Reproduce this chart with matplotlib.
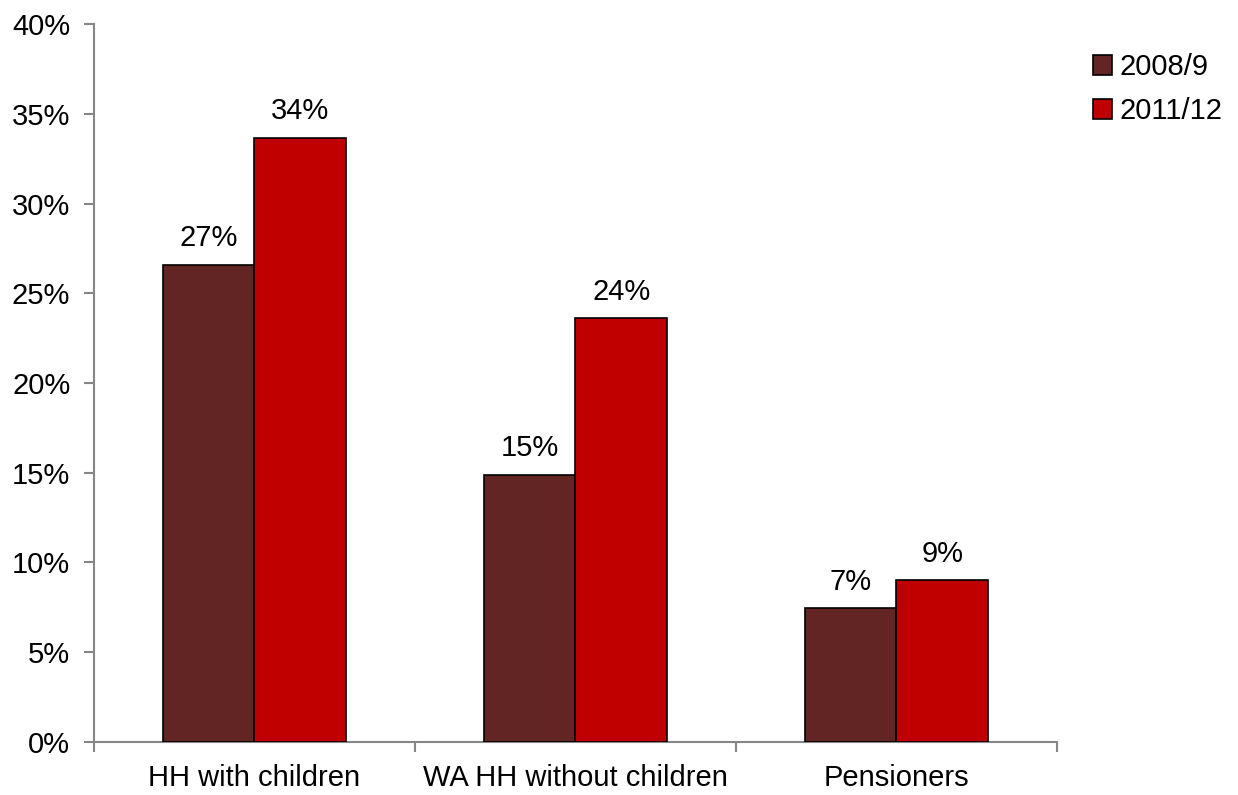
import numpy as np
import matplotlib.pyplot as plt

plt.rcParams['font.family'] = ['Liberation Sans', 'DejaVu Sans']

categories = ['HH with children', 'WA HH without children', 'Pensioners']
series_names = ['2008/9', '2011/12']
vals_0809 = [26.6, 14.9, 7.45]
vals_1112 = [33.65, 23.6, 9.0]
colors = ['#632523', '#C00000']

fig = plt.figure(figsize=(12.38, 7.95), dpi=100)
ax = fig.add_axes([0.0759, 0.0667, 0.7779, 0.9031])

x = np.arange(len(categories))
w = 0.285
for i, (vals, name) in enumerate(zip([vals_0809, vals_1112], series_names)):
    pos = x + (i - 0.5) * w
    bars = ax.bar(pos, vals, width=w, color=colors[i], edgecolor='black',
                  linewidth=1.2, label=name, zorder=3)
    for b, v in zip(bars, vals):
        ax.text(b.get_x() + b.get_width() / 2, v + 0.7, f'{v:.0f}%',
                ha='center', va='bottom', fontsize=21)

ax.set_xlim(-0.5, len(categories) - 0.5)
ax.set_ylim(0, 40)
ax.set_yticks(np.arange(0, 41, 5))
ax.set_yticklabels([f'{t}%' for t in range(0, 41, 5)], fontsize=21)
ax.set_xticks(x)
ax.set_xticklabels(categories, fontsize=21)
ax.set_xticks(np.arange(-0.5, len(categories)), minor=True)
ax.tick_params(axis='x', which='major', length=0, pad=16)
ax.tick_params(axis='x', which='minor', length=7, color='#868686', width=1.5)
ax.tick_params(axis='y', length=7, color='#868686', width=1.5, pad=10)

for s in ['top', 'right']:
    ax.spines[s].set_visible(False)
for s in ['left', 'bottom']:
    ax.spines[s].set_color('#868686')
    ax.spines[s].set_linewidth(1.5)

ax.legend(loc='upper left', bbox_to_anchor=(1.01, 0.996), frameon=False,
          fontsize=21, handlelength=0.65, handleheight=0.65, handletextpad=0.25,
          labelspacing=0.55)

fig.savefig('out.png', dpi=100)
